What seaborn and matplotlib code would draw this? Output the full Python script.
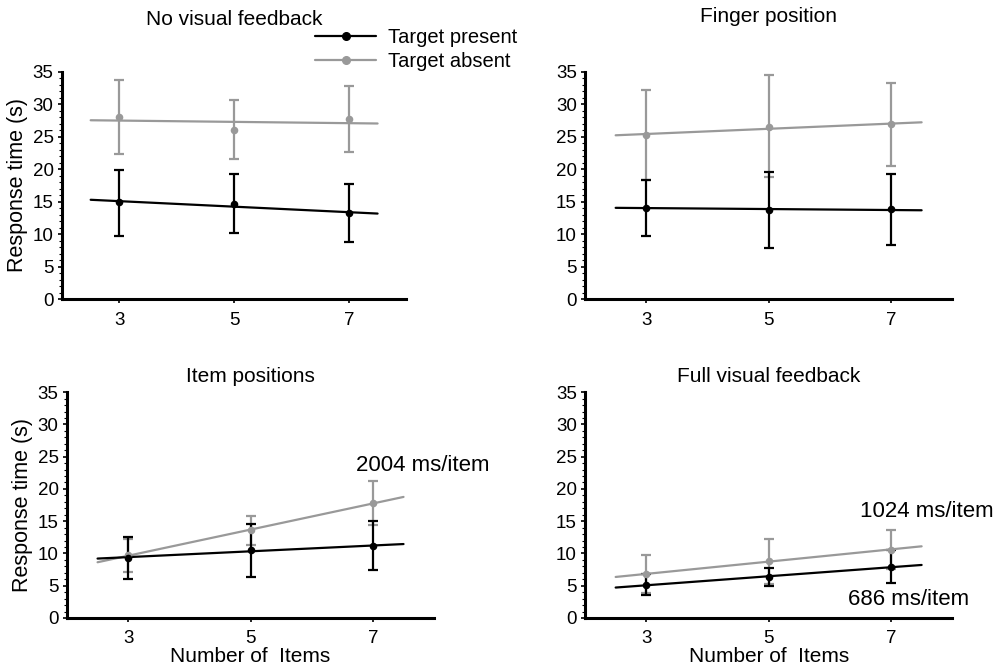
import numpy as np
import pandas as pd
import seaborn as sns
import matplotlib.pyplot as plt
from matplotlib.lines import Line2D
from matplotlib.ticker import MultipleLocator

# Data (response time in seconds)
conditions = ["No visual feedback", "Finger position", "Item positions", "Full visual feedback"]
items = [3, 5, 7]

present_mean = [[14.9, 14.6, 13.2], [14.1, 13.7, 13.8], [9.3, 10.6, 11.1], [5.1, 6.4, 7.9]]
present_lo = [[9.7, 10.2, 8.8], [9.7, 7.8, 8.3], [6.0, 6.4, 7.4], [3.5, 4.9, 5.4]]
present_hi = [[19.9, 19.3, 17.7], [18.4, 19.6, 19.3], [12.5, 14.6, 15.0], [6.8, 7.8, 10.5]]

absent_mean = [[28.1, 26.1, 27.7], [25.3, 26.5, 26.9], [9.7, 13.6, 17.8], [6.8, 8.8, 10.6]]
absent_lo = [[22.4, 21.6, 22.6], [18.3, 18.8, 20.5], [7.1, 11.3, 14.4], [3.8, 5.3, 7.6]]
absent_hi = [[33.8, 30.7, 32.8], [32.2, 34.5, 33.3], [12.3, 15.8, 21.2], [9.7, 12.2, 13.7]]

slope_labels = {2: [("2004 ms/item", 6.72, 23.6)],
                3: [("1024 ms/item", 6.5, 16.5), ("686 ms/item", 6.29, 2.9)]}

series_names = ["Target present", "Target absent"]
series_colors = ["black", "#999999"]

sns.set_style("ticks")
plt.rcParams['font.family'] = ['Liberation Sans', 'DejaVu Sans']
for key in ['text.color', 'axes.labelcolor', 'xtick.color', 'ytick.color', 'axes.edgecolor']:
    plt.rcParams[key] = 'black'

fig = plt.figure(figsize=(9.95, 6.72), dpi=100)

# axes boxes [left, bottom, width, height]
boxes = [
    [0.0623, 0.555, 0.346, 0.338],
    [0.588, 0.555, 0.369, 0.338],
    [0.0673, 0.0804, 0.369, 0.336],
    [0.588, 0.0804, 0.369, 0.336],
]
title_pads = [34, 36, 7, 7]

fit_x = np.array([2.5, 7.5])

for i, cond in enumerate(conditions):
    ax = fig.add_axes(boxes[i])
    groups = [
        (absent_mean[i], absent_lo[i], absent_hi[i], series_colors[1]),
        (present_mean[i], present_lo[i], present_hi[i], series_colors[0]),
    ]
    for mean, lo, hi, col in groups:
        mean = np.array(mean)
        err = [mean - np.array(lo), np.array(hi) - mean]
        ax.errorbar(items, mean, yerr=err, fmt='none', ecolor=col,
                    elinewidth=1.6, capsize=3.5, capthick=1.6, zorder=2)
        # least-squares fit through the condition means
        k, b = np.polyfit(items, mean, 1)
        fit = pd.DataFrame({'x': fit_x, 'y': k * fit_x + b})
        sns.lineplot(data=fit, x='x', y='y', color=col, lw=1.6, ax=ax, zorder=3)
        pts = pd.DataFrame({'x': items, 'y': mean})
        sns.scatterplot(data=pts, x='x', y='y', color=col, s=30,
                        edgecolor=col, linewidth=0, ax=ax, zorder=4)

    ax.set_xlim(2, 8)
    ax.set_ylim(0, 35)
    ax.set_xticks(items)
    ax.set_yticks(range(0, 36, 5))
    ax.yaxis.set_minor_locator(MultipleLocator(1))
    ax.tick_params(axis='both', labelsize=13.5, length=3, width=1.2, pad=3)
    ax.tick_params(axis='y', which='minor', length=2, width=0.8)
    ax.tick_params(axis='x', pad=6)
    for side in ['left', 'bottom']:
        ax.spines[side].set_linewidth(2.2)
    sns.despine(ax=ax)
    ax.set_title(cond, fontsize=15, pad=title_pads[i])

    ax.set_xlabel("Number of  Items" if i >= 2 else "", fontsize=15, labelpad=0)
    ax.set_ylabel("Response time (s)" if i % 2 == 0 else "", fontsize=15.5, labelpad=3)

    for txt, tx, ty in slope_labels.get(i, []):
        ax.text(tx, ty, txt, fontsize=16, va='center', ha='left')

handles = [Line2D([0], [0], color=c, lw=1.6, marker='o', markersize=5.5)
           for c in series_colors]
fig.legend(handles, series_names, loc='upper left', bbox_to_anchor=(0.317, 0.959),
           frameon=False, fontsize=14.5, handlelength=3.0, handletextpad=0.6,
           labelspacing=0.25, borderaxespad=0, borderpad=0)

fig.savefig('out.png', dpi=100)
